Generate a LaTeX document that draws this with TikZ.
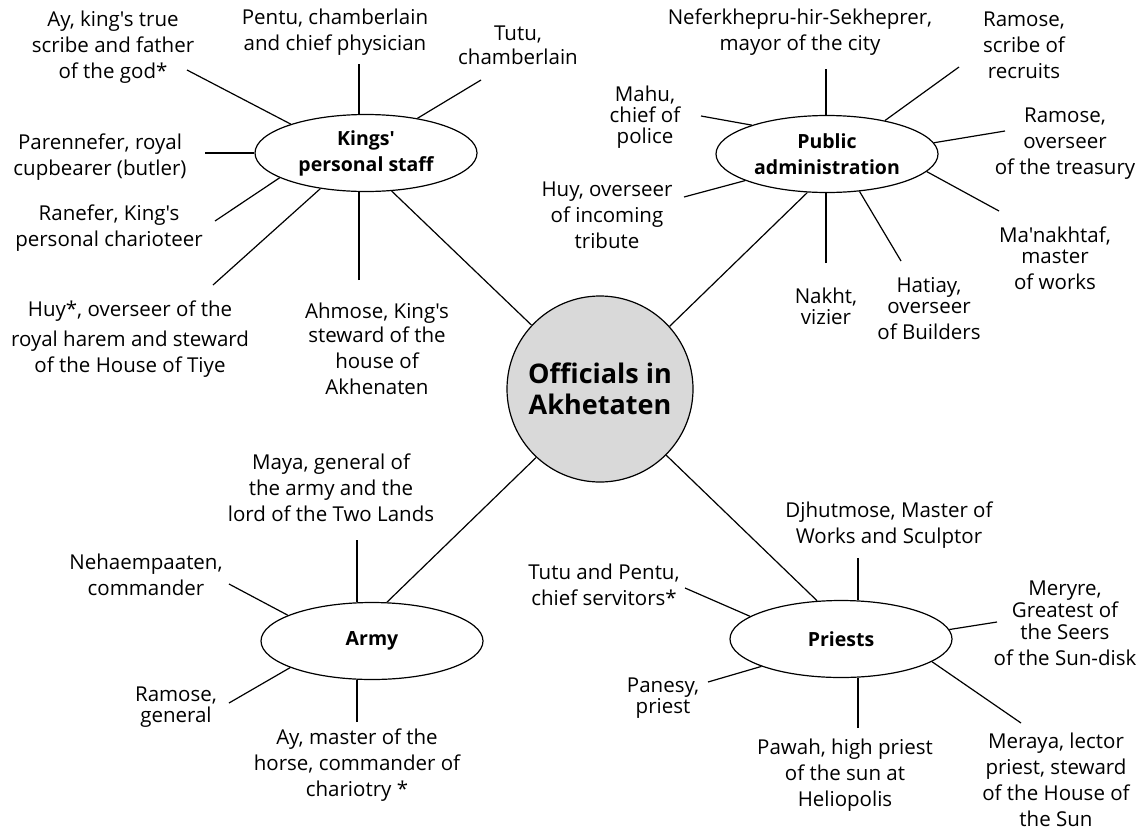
\documentclass[tikz,border=0pt]{standalone}
\usepackage{fontspec}
\setmainfont{Open Sans}[Ligatures=TeXOff]
\usetikzlibrary{shapes.geometric, positioning, calc}

\begin{document}
\begin{tikzpicture}[
    x=1pt, y=-1pt,
    every node/.style={font=\fontsize{20.5}{26}\selectfont},
    hub/.style={circle, draw, line width=1.2pt, fill=black!15, minimum size=186pt,
                inner sep=0pt, align=center, font=\fontsize{27}{31}\selectfont\bfseries},
    group/.style={ellipse, draw, line width=1.2pt, fill=white, minimum width=222pt,
                  minimum height=77pt, inner sep=0pt, align=center,
                  font=\fontsize{19.5}{26}\selectfont\bfseries},
    who/.style={align=center, inner sep=0pt},
    tight/.style={who, font=\fontsize{20.5}{21}\selectfont},
    spoke/.style={line width=1.2pt}
]
\useasboundingbox (0,0) rectangle (1148,830);

\node[hub]   (hub)     at (600,389) {Officials in\\Akhetaten};
\node[group] (kings)   at (366,153) {Kings'\\personal staff};
\node[group] (public)  at (827,154) {Public\\administration};
\node[group] (army)    at (372,641) {Army};
\node[group] (priests) at (841,639) {Priests};

\node[who] (ay)         at (113,47)  {Ay, king's true\\scribe and father\\of the god*};
\node[who] (pentu)      at (335,32)  {Pentu, chamberlain\\and chief physician};
\node[who, font=\fontsize{20.5}{24}\selectfont] (tutu) at (518,45) {Tutu,\\chamberlain};
\node[who] (parennefer) at (100,157) {Parennefer, royal\\cupbearer (butler)};
\node[who] (ranefer)    at (109,228) {Ranefer, King's\\personal charioteer};
\node[who] (huy)        at (130,339) {Huy*, overseer of the\\[4pt]royal harem and steward\\of the House of Tiye};
\node[who] (ahmose)     at (377,349) {Ahmose, King's\\[-2pt]steward of the\\house of\\Akhenaten};

\node[who]   (nefer)    at (800,32)  {Neferkhepru-hir-Sekheprer,\\mayor of the city};
\node[who]   (rscribe)  at (1024,45) {Ramose,\\scribe of\\recruits};
\node[tight] (mahu)     at (645,117) {Mahu,\\chief of\\police};
\node[who]   (huyo)     at (607,215) {Huy, overseer\\of incoming\\tribute};
\node[who]   (treasury) at (1065,144) {Ramose,\\overseer\\of the treasury};
\node[who]   (manakh)   at (1055,258) {Ma'nakhtaf,\\[-5pt]master\\of works};
\node[tight] (nakht)    at (826,306) {Nakht,\\vizier};
\node[who]   (hatiay)   at (929,309) {Hatiay,\\[-5pt]overseer\\of Builders};

\node[who]   (maya)     at (331,488) {Maya, general of\\the army and the\\lord of the Two Lands};
\node[who]   (neh)      at (146,575) {Nehaempaaten,\\commander};
\node[tight] (rgeneral) at (176,707) {Ramose,\\general};
\node[who]   (aymaster) at (357,765) {Ay, master of the\\horse, commander of\\chariotry *};

\node[who]   (djhutmose) at (889,525) {Djhutmose, Master of\\Works and Sculptor};
\node[who]   (tutupentu) at (604,585) {Tutu and Pentu,\\chief servitors*};
\node[who]   (meryre)    at (1065,623) {Meryre,\\[-4pt]Greatest of\\[-4pt]the Seers\\of the Sun-disk};
\node[tight] (panesy)    at (663,698) {Panesy,\\priest};
\node[who]   (pawah)     at (845,775) {Pawah, high priest\\of the sun at\\Heliopolis};
\node[who]   (meraya)    at (1056,780) {Meraya, lector\\priest, steward\\of the House of\\the Sun};

\coordinate (ayend)     at (187,70);
\coordinate (pentuend)  at (359,64);
\coordinate (tutuend)   at (481,80);
\coordinate (parenend)  at (205,153);
\coordinate (ranend)    at (215,221);
\coordinate (huyend)    at (213,285);
\coordinate (ahmend)    at (359,280);
\coordinate (neferend)  at (826,69);
\coordinate (rscribeend) at (959,67);
\coordinate (treasend)  at (1005,131);
\coordinate (manakhend) at (999,211);
\coordinate (hatend)    at (901,261);
\coordinate (nakhtend)  at (826,263);
\coordinate (huyoend)   at (684,197);
\coordinate (mahuend)   at (701,116);
\coordinate (mayaend)   at (357,540);
\coordinate (nehend)    at (229,584);
\coordinate (rgenend)   at (229,703);
\coordinate (ayaend)    at (357,722);
\coordinate (djhend)    at (858,558);
\coordinate (tpend)     at (685,588);
\coordinate (panend)    at (708,682);
\coordinate (meryend)   at (997,622);
\coordinate (merayend)  at (1021,723);
\coordinate (pawend)    at (858,728);

\draw[spoke] (hub.137) -- (kings.304);
\draw[spoke] (hub.42) -- (public.243);
\draw[spoke] (hub.227) -- (army.69);
\draw[spoke] (hub.315) -- (priests.122);

\draw[spoke] (kings.159) -- (ayend);
\draw[spoke] (pentuend) -- (pentuend |- kings.north);
\draw[spoke] (kings.34) -- (tutuend);
\draw[spoke] (parenend) -- (kings.west);
\draw[spoke] (kings.196) -- (ranend);
\draw[spoke] (kings.218) -- (huyend);
\draw[spoke] (ahmend) -- (ahmend |- kings.south);

\draw[spoke] (neferend) -- (neferend |- public.north);
\draw[spoke] (public.30) -- (rscribeend);
\draw[spoke] (public.6) -- (treasend);
\draw[spoke] (public.350) -- (manakhend);
\draw[spoke] (public.311) -- (hatend);
\draw[spoke] (nakhtend) -- (nakhtend |- public.south);
\draw[spoke] (public.198) -- (huyoend);
\draw[spoke] (public.159) -- (mahuend);

\draw[spoke] (mayaend) -- (mayaend |- army.north);
\draw[spoke] (army.163) -- (nehend);
\draw[spoke] (army.198) -- (rgenend);
\draw[spoke] (ayaend) -- (ayaend |- army.south);

\draw[spoke] (djhend) -- (djhend |- priests.north);
\draw[spoke] (priests.166) -- (tpend);
\draw[spoke] (priests.199) -- (panend);
\draw[spoke] (priests.5) -- (meryend);
\draw[spoke] (priests.346) -- (merayend);
\draw[spoke] (pawend) -- (pawend |- priests.south);
\end{tikzpicture}
\end{document}
